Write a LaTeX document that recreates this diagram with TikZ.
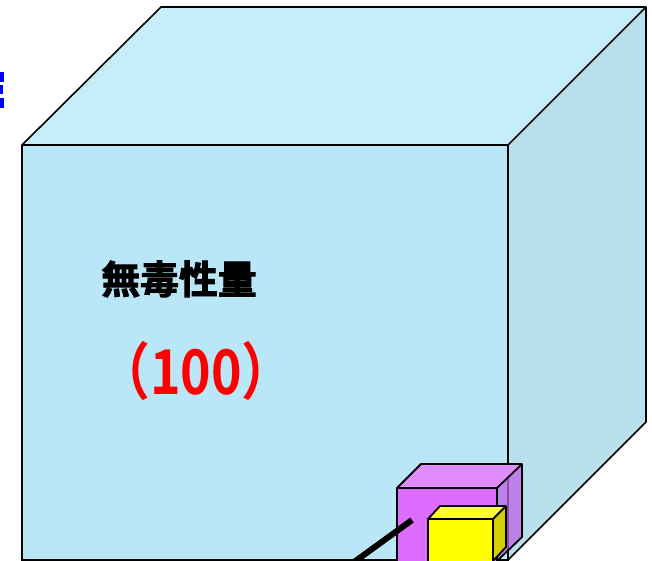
\documentclass[tikz,border=0pt]{standalone}
\usepackage{fontspec}
\newfontfamily\cjkbold{Noto Sans CJK JP Bold}
\newfontfamily\cjkheavy{Noto Sans CJK JP Bold}[FakeBold=2.5]
\definecolor{frontC}{RGB}{185,231,248}
\definecolor{topC}{RGB}{199,236,250}
\definecolor{sideC}{RGB}{184,223,236}
\definecolor{purpF}{RGB}{221,108,255}
\definecolor{purpT}{RGB}{224,140,255}
\definecolor{purpS}{RGB}{190,100,230}
\definecolor{yelF}{RGB}{255,255,0}
\definecolor{yelT}{RGB}{255,255,51}
\definecolor{yelS}{RGB}{212,208,0}
\definecolor{bluefrag}{RGB}{0,0,255}
\tikzset{
  face/.style={draw=black, line width=1.6bp, line join=round},
  cube/.style={draw=black, line width=1.8bp, line join=round},
}
\begin{document}
\begin{tikzpicture}[x=1bp,y=-1bp]
\useasboundingbox (0,0) rectangle (652,561);
\clip (0,0) rectangle (652,561);
% big cube
\fill[frontC] (22,145) rectangle (508,560);
\fill[topC] (22,145) -- (161,7) -- (646,7) -- (508,145) -- cycle;
\fill[sideC] (508,145) -- (646,7) -- (646,422) -- (508,560) -- cycle;
\draw[face] (22,562) -- (22,145) -- (161,7) -- (646,7) -- (646,422) -- (508,560);
\draw[face] (22,145) -- (508,145) -- (646,7);
\draw[face] (508,145) -- (508,562);
\draw[face] (22,560) -- (508,560);
% blue fragments at left edge
\fill[bluefrag] (0,72) rectangle (4,82);
\fill[bluefrag] (0,85) rectangle (3,94);
\fill[bluefrag] (0,98) rectangle (4,108);
% texts
\node[inner sep=0, font=\cjkheavy\fontsize{39}{39}\selectfont, text=black] (label) at (179,279) {無毒性量};
\node[inner sep=0, font=\cjkbold\fontsize{62}{62}\selectfont, text=red, xscale=0.84] (value) at (196,371) {（100）};
% purple cube
\fill[purpF] (397,488) rectangle (497,565);
\fill[purpT] (397,488) -- (421,464) -- (522,464) -- (497,488) -- cycle;
\fill[purpS, fill opacity=0.75] (497,488) -- (522,464) -- (522,537) -- (497,561) -- cycle;
\draw[cube] (397,565) -- (397,488) -- (421,464) -- (522,464) -- (522,537) -- (497,561);
\draw[cube] (397,488) -- (497,488) -- (522,464);
\draw[cube] (497,488) -- (497,565);
% black rod
\draw[line width=6bp] (412,520) -- (350,565);
% yellow cube
\fill[yelF] (428,519) rectangle (493,565);
\fill[yelT] (428,519) -- (440,506) -- (506,506) -- (493,519) -- cycle;
\fill[yelS] (493,519) -- (506,506) -- (506,547) -- (493,561) -- cycle;
\draw[cube] (428,565) -- (428,519) -- (440,506) -- (506,506) -- (506,547) -- (493,561);
\draw[cube] (428,519) -- (493,519) -- (506,506);
\draw[cube] (493,519) -- (493,565);
\end{tikzpicture}
\end{document}
